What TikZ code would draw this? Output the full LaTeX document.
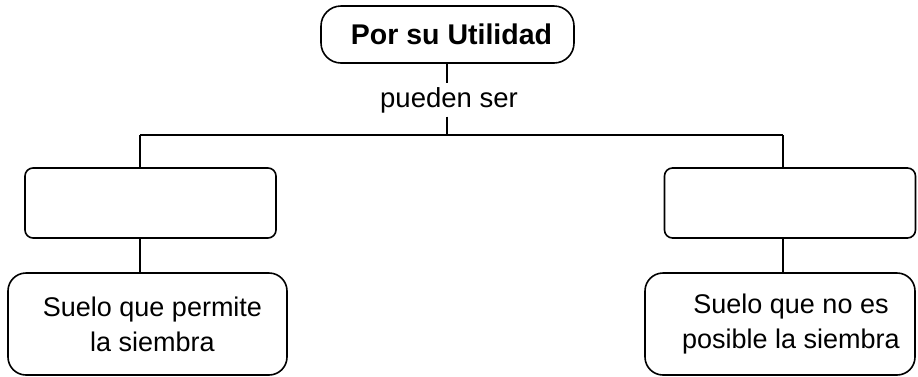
\documentclass[tikz,border=0pt]{standalone}
\usepackage{fontspec}
\setmainfont{Liberation Sans}
\usetikzlibrary{calc}

\tikzset{
  topbox/.style = {draw, rounded corners = 20, minimum width = 253,
    minimum height = 57},
  emptybox/.style = {draw, rounded corners = 8, minimum width = 251,
    minimum height = 70},
  leafbox/.style = {draw, rounded corners = 18, minimum width = 279,
    minimum height = 102},
  leaftext/.style = {align = center, font = \fontsize{27}{35}\selectfont}
}

\begin{document}
\begin{tikzpicture}[x = 1pt, y = -1pt, line width = 1.6pt,
  line join = round]
  \useasboundingbox (0, 0) rectangle (918, 376);

  \node[topbox] (util) at (447.5, 34.5) {};
  \node[font = \fontsize{28.5}{34}\selectfont\bfseries] (utiltxt)
  at ([xshift = 4]util.center) {Por su Utilidad};
  \node[anchor = base, inner sep = 3, font = \fontsize{27.5}{33}\selectfont]
  (lbl) at (449, 107) {pueden ser};

  \node[emptybox] (mid1) at (150.5, 203) {};
  \node[emptybox] (mid2) at (790, 203) {};
  \node[leafbox] (low1) at (147.5, 324) {};
  \node[leafbox, minimum width = 270] (low2) at (780, 324) {};
  \node[leaftext] (txt1) at ([xshift = 5]low1.center)
  {Suelo que permite\\la siembra};
  \node[leaftext] (txt2) at ([xshift = 11]low2.center)
  {Suelo que no es\\posible la siembra};

  % branch points
  \coordinate (j) at (447, 135);
  \coordinate (b1) at (140, 135);
  \coordinate (b2) at (783, 135);

  \draw (util.south -| j) -- (lbl.north -| j);
  \draw (lbl.south -| j) -- (j);
  \draw (b1) -- (b2);
  \draw (b1) -- (b1 |- mid1.north);
  \draw (b2) -- (b2 |- mid2.north);
  \draw (b1 |- mid1.south) -- (b1 |- low1.north);
  \draw (b2 |- mid2.south) -- (b2 |- low2.north);
\end{tikzpicture}
\end{document}
